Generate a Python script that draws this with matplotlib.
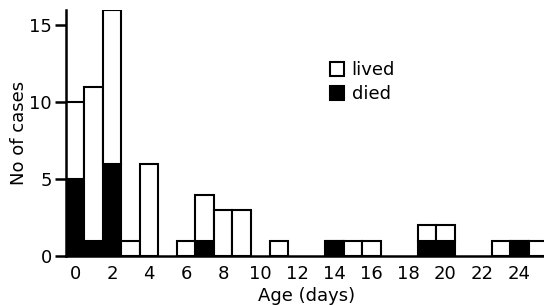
import numpy as np
import matplotlib.pyplot as plt
from matplotlib.patches import Patch

# age in days, total cases and deaths
age = [0, 1, 2, 3, 4, 6, 7, 8, 9, 11, 14, 15, 16, 19, 20, 23, 24, 25]
total = [10, 11, 16, 1, 6, 1, 4, 3, 3, 1, 1, 1, 1, 2, 2, 1, 1, 1]
died = [5, 1, 6, 0, 0, 0, 1, 0, 0, 0, 1, 0, 0, 1, 1, 0, 1, 0]
xticks = list(range(0, 25, 2))
yticks = [0, 5, 10, 15]

lived = np.array(total) - np.array(died)

fig = plt.figure(figsize=(5.44, 3.05), dpi=100)
ax = fig.add_axes([0.121, 0.16, 0.885, 0.807])

ax.bar(age, died, width=1.0, color='black', edgecolor='black', linewidth=1.5)
ax.bar(age, lived, width=1.0, bottom=died, color='white', edgecolor='black', linewidth=1.5)

ax.set_xlim(-0.5, 25.5)
ax.set_ylim(0, 16)
ax.set_xticks(xticks)
ax.set_yticks(yticks)
ax.tick_params(axis='x', length=0, labelsize=13, pad=6)
ax.tick_params(axis='y', length=8, width=1.8, labelsize=13, pad=2)
for s in ['top', 'right']:
    ax.spines[s].set_visible(False)
ax.spines['left'].set_linewidth(1.8)
ax.spines['bottom'].set_linewidth(1.8)

ax.set_xlabel('Age (days)', fontsize=13, labelpad=3)
ax.set_ylabel('No of cases', fontsize=13, labelpad=1)

handles = [Patch(facecolor='white', edgecolor='black', linewidth=1.5, label='lived'),
           Patch(facecolor='black', edgecolor='black', linewidth=1.5, label='died')]
ax.legend(handles=handles, loc='upper left', bbox_to_anchor=(0.53, 0.83), frameon=False,
          fontsize=13, handlelength=0.8, handleheight=0.8, handletextpad=0.4,
          labelspacing=0.35, borderpad=0)

fig.savefig('out.png')
